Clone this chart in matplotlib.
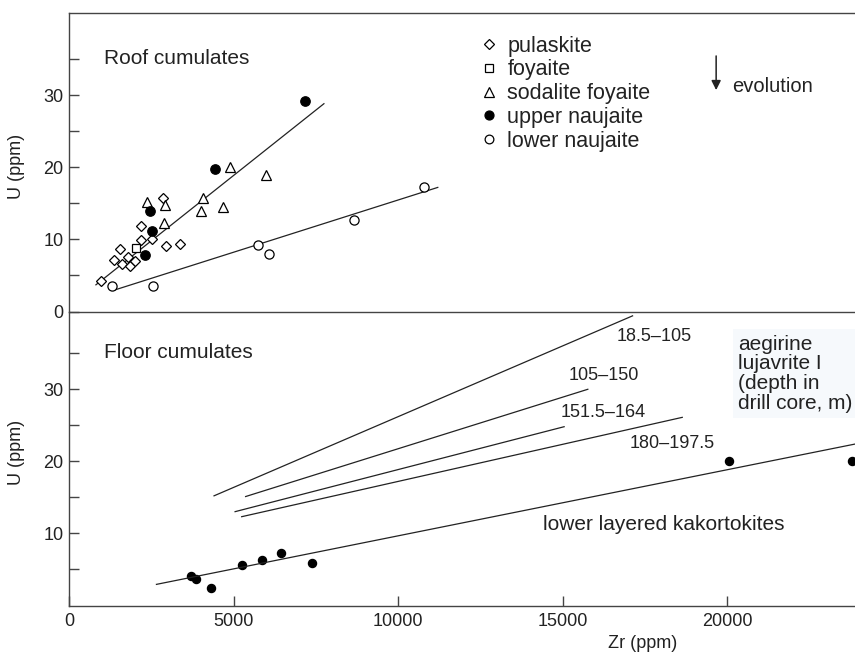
import numpy as np
import matplotlib
matplotlib.use('Agg')
import matplotlib.pyplot as plt
from matplotlib.ticker import FixedLocator

plt.rcParams['font.family'] = ['Liberation Sans', 'DejaVu Sans']

# roof cumulates (Zr ppm, U ppm)
pul_zr = [950, 1370, 1530, 1600, 1790, 1860, 2010, 2190, 2170, 2520, 2860, 2940, 3360]
pul_u = [4.2, 7.2, 8.6, 6.6, 7.5, 6.3, 7.0, 11.8, 9.9, 10.0, 15.7, 9.1, 9.4]
foy_zr = [2030]
foy_u = [8.8]
sod_zr = [2370, 2900, 2870, 4070, 3990, 4660, 4890, 5990]
sod_u = [15.2, 14.7, 12.2, 15.8, 13.9, 14.5, 20.0, 18.9]
upn_zr = [2460, 2510, 2310, 4430, 7150]
upn_u = [13.9, 11.1, 7.9, 19.8, 29.2]
lown_zr = [1310, 2560, 5750, 6080, 8660, 10770]
lown_u = [3.5, 3.6, 9.2, 8.0, 12.7, 17.2]

# trend lines (end points)
roof_fit_zr = [810, 7740]
roof_fit_u = [3.7, 28.8]
lown_fit_zr = [1390, 11200]
lown_fit_u = [3.0, 17.2]

# floor cumulates
kak_zr = [3700, 3850, 4310, 5260, 5850, 6430, 7390, 20040, 23780]
kak_u = [4.1, 3.65, 2.35, 5.6, 6.35, 7.3, 5.8, 20.1, 20.1]
kak_fit_zr = [2650, 24000]
kak_fit_u = [2.9, 22.5]

luj_labels = ['18.5\u2013105', '105\u2013150', '151.5\u2013164', '180\u2013197.5']
luj_zr0 = [4400, 5360, 5040, 5240]
luj_u0 = [15.2, 15.1, 13.0, 12.3]
luj_zr1 = [17120, 15760, 15040, 18630]
luj_u1 = [40.2, 30.0, 24.8, 26.1]
luj_label_zr = [17770, 16250, 16230, 18310]
luj_label_u = [37.4, 31.9, 26.8, 22.5]

ink = '#222222'
spine_c = '#444444'

fig = plt.figure(figsize=(8.55, 6.52), dpi=100)
ax1 = fig.add_axes([0.081, 0.5222, 0.919, 0.4571])
ax2 = fig.add_axes([0.081, 0.0706, 0.919, 0.4516])
ax2.patch.set_visible(False)

mk = dict(linestyle='none', mec='black', mew=0.9)
ax1.plot(pul_zr, pul_u, marker='D', ms=5.0, mfc='white', label='pulaskite', **mk)
ax1.plot(foy_zr, foy_u, marker='s', ms=5.8, mfc='white', label='foyaite', **mk)
ax1.plot(sod_zr, sod_u, marker='^', ms=7.0, mfc='white', label='sodalite foyaite', **mk)
ax1.plot(upn_zr, upn_u, marker='o', ms=6.8, mfc='black', label='upper naujaite', **mk)
ax1.plot(lown_zr, lown_u, marker='o', ms=6.6, mfc='white', label='lower naujaite', **mk)
ax1.plot(roof_fit_zr, roof_fit_u, color=ink, lw=0.9, zorder=1)
ax1.plot(lown_fit_zr, lown_fit_u, color=ink, lw=0.9, zorder=1)

leg = ax1.legend(loc='upper left', bbox_to_anchor=(0.507, 0.962), frameon=False,
                 fontsize=15.5, borderpad=0, handlelength=1.0, handletextpad=0.35,
                 labelspacing=0.13, markerscale=0.95)
for t in leg.get_texts():
    t.set_color(ink)

ax1.text(1060, 34.3, 'Roof cumulates', fontsize=15, color=ink)
ax1.annotate('', xy=(19660, 30.3), xytext=(19660, 35.8),
             arrowprops=dict(arrowstyle='-|>', color=ink, lw=1.1, mutation_scale=14))
ax1.text(20150, 31.2, 'evolution', fontsize=14.5, color=ink, va='center')

ax2.plot(kak_zr, kak_u, marker='o', ms=5.8, mfc='black', mec='black',
         linestyle='none', clip_on=False)
ax2.plot(kak_fit_zr, kak_fit_u, color=ink, lw=0.9)
for i in range(len(luj_labels)):
    ax2.plot([luj_zr0[i], luj_zr1[i]], [luj_u0[i], luj_u1[i]], color=ink, lw=0.9)
    ax2.text(luj_label_zr[i], luj_label_u[i], luj_labels[i], fontsize=13,
             color=ink, ha='center', va='center')
ax2.text(1060, 34.3, 'Floor cumulates', fontsize=15, color=ink)
ax2.text(18060, 11.25, 'lower layered kakortokites', fontsize=15, color=ink,
         ha='center', va='center')
ax2.text(20330, 37.6, 'aegirine\nlujavrite I\n(depth in\ndrill core, m)', fontsize=15,
         color=ink, va='top', ha='left', linespacing=1.05,
         bbox=dict(facecolor='#f6f9fc', edgecolor='none', pad=4))

for ax in (ax1, ax2):
    ax.set_xlim(0, 23880)
    ax.spines['right'].set_visible(False)
    for s in ('left', 'bottom', 'top'):
        ax.spines[s].set_color(spine_c)
        ax.spines[s].set_linewidth(1.0)
    ax.yaxis.set_minor_locator(FixedLocator([5, 15, 25, 35]))
    ax.tick_params(axis='both', which='both', direction='in', length=7,
                   width=1.0, color=spine_c, labelsize=13, labelcolor=ink)
    ax.tick_params(axis='y', pad=4)
    ax.set_ylabel('U (ppm)', fontsize=13, color=ink)

ax1.set_ylim(0, 41.3)
ax1.set_yticks([0, 10, 20, 30])
ax1.set_xticks([])
ax1.yaxis.set_label_coords(-0.056, 0.486)

ax2.set_ylim(-0.1, 40.8)
ax2.set_yticks([10, 20, 30])
ax2.spines['top'].set_visible(False)
ax2.set_xticks([0, 5000, 10000, 15000, 20000])
ax2.tick_params(axis='x', pad=5)
ax2.set_xlabel('Zr (ppm)', fontsize=13, color=ink)
ax2.xaxis.set_label_coords(0.73, -0.1)
ax2.yaxis.set_label_coords(-0.056, 0.52)

fig.savefig('out.png', dpi=100)
